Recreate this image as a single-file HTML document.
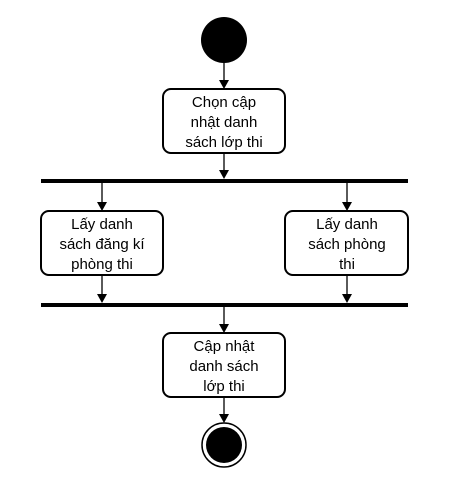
<!DOCTYPE html>
<html><head><meta charset="utf-8"><style>
html,body{margin:0;padding:0;background:#fff;width:450px;height:492px;overflow:hidden}
text{font-family:"Liberation Sans","DejaVu Sans",sans-serif;font-size:15px;fill:#000}
</style></head><body>
<svg width="450" height="492" viewBox="0 0 450 492" xmlns="http://www.w3.org/2000/svg">
<g stroke="#000" stroke-width="1.3" fill="none">
<line x1="224" y1="62" x2="224" y2="82"/>
<line x1="224" y1="153" x2="224" y2="172"/>
<line x1="102" y1="183" x2="102" y2="204"/>
<line x1="347" y1="183" x2="347" y2="204"/>
<line x1="102" y1="275" x2="102" y2="296"/>
<line x1="347" y1="275" x2="347" y2="296"/>
<line x1="224" y1="307" x2="224" y2="326"/>
<line x1="224" y1="397" x2="224" y2="416"/>
</g>
<g fill="#000">
<polygon points="219,80 229,80 224,89"/>
<polygon points="219,170 229,170 224,179"/>
<polygon points="97,202 107,202 102,211"/>
<polygon points="342,202 352,202 347,211"/>
<polygon points="97,294 107,294 102,303"/>
<polygon points="342,294 352,294 347,303"/>
<polygon points="219,324 229,324 224,333"/>
<polygon points="219,414 229,414 224,423"/>
</g>
<circle cx="224" cy="40" r="23" fill="#000"/>
<g stroke="#000" stroke-width="2" fill="#fff">
<rect x="163" y="89" width="122" height="64" rx="8"/>
<rect x="41" y="211" width="122" height="64" rx="8"/>
<rect x="285" y="211" width="123" height="64" rx="8"/>
<rect x="163" y="333" width="122" height="64" rx="8"/>
</g>
<rect x="41" y="179" width="367" height="4" fill="#000"/>
<rect x="41" y="303" width="367" height="4" fill="#000"/>
<circle cx="224" cy="445" r="22" fill="#fff" stroke="#000" stroke-width="1.5"/>
<circle cx="224" cy="445" r="18" fill="#000"/>
<g text-anchor="middle">
<text x="224" y="107">Chọn cập</text><text x="224" y="127">nhật danh</text><text x="224" y="147">sách lớp thi</text>
<text x="102" y="229">Lấy danh</text><text x="102" y="249">sách đăng kí</text><text x="102" y="269">phòng thi</text>
<text x="347" y="229">Lấy danh</text><text x="347" y="249">sách phòng</text><text x="347" y="269">thi</text>
<text x="224" y="351">Cập nhật</text><text x="224" y="371">danh sách</text><text x="224" y="391">lớp thi</text>
</g>
</svg>
</body></html>
